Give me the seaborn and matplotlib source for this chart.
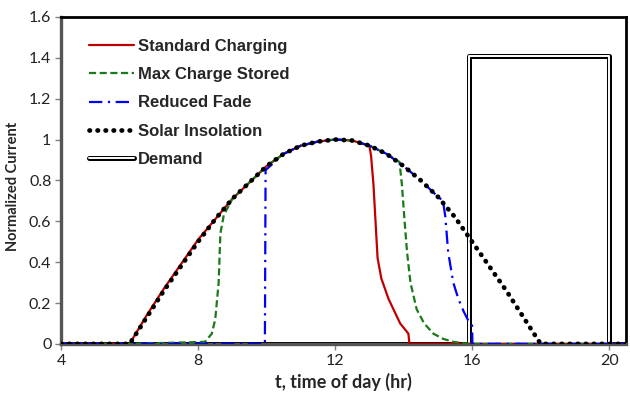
import matplotlib
matplotlib.use("Agg")
import matplotlib.pyplot as plt
import seaborn as sns
from matplotlib.lines import Line2D

# hours of day and normalized current
solar_t = [4, 6, 6.5, 7, 7.5, 8, 8.5, 9, 9.5, 10, 10.5, 11, 11.5, 12, 12.5,
           13, 13.5, 14, 14.5, 15, 15.5, 16, 16.5, 17, 17.5, 18, 20.5]
solar_v = [0, 0, 0.13, 0.26, 0.38, 0.50, 0.61, 0.71, 0.79, 0.87, 0.93, 0.97, 0.99, 1.0, 0.995,
           0.97, 0.93, 0.87, 0.80, 0.72, 0.62, 0.50, 0.38, 0.26, 0.13, 0, 0]

std_t = [4, 6, 6.5, 7, 7.5, 8, 8.5, 9, 9.5, 10, 10.5, 11, 11.5, 12, 12.5,
         13.0, 13.05, 13.12, 13.18, 13.24, 13.35, 13.56, 13.9, 14.14, 14.17, 20.5]
std_v = [0, 0, 0.14, 0.27, 0.39, 0.51, 0.61, 0.71, 0.79, 0.87, 0.93, 0.97, 0.99, 1.0, 0.995,
         0.97, 0.92, 0.78, 0.60, 0.42, 0.32, 0.22, 0.10, 0.05, 0, 0]

mcs_t = [4, 6, 8.2, 8.4, 8.5, 8.6, 8.65, 8.75, 9, 9.5, 10, 10.5, 11, 11.5, 12, 12.5,
         13, 13.5, 13.88, 13.95, 14.02, 14.1, 14.2, 14.38, 14.6, 14.87, 15.15, 15.45, 15.9, 20.5]
mcs_v = [0, 0, 0.01, 0.05, 0.12, 0.30, 0.54, 0.63, 0.71, 0.79, 0.87, 0.93, 0.97, 0.99, 1.0, 0.995,
         0.97, 0.93, 0.89, 0.78, 0.62, 0.45, 0.30, 0.17, 0.10, 0.05, 0.025, 0.01, 0, 0]

rf_t = [4, 9.95, 9.97, 10.5, 11, 11.5, 12, 12.5, 13, 13.5, 14, 14.5, 15, 15.15,
        15.22, 15.3, 15.45, 15.6, 15.75, 15.9, 16.0, 16.01, 20.5]
rf_v = [0, 0, 0.85, 0.93, 0.97, 0.99, 1.0, 0.995, 0.97, 0.93, 0.87, 0.80, 0.72, 0.70,
        0.62, 0.45, 0.30, 0.22, 0.16, 0.11, 0.09, 0, 0]

dem_t = [4, 15.9, 15.9, 20.0, 20.0, 20.5]
dem_v = [0, 0, 1.41, 1.41, 0, 0]

labels = ["Standard Charging", "Max Charge Stored", "Reduced Fade",
          "Solar Insolation", "Demand"]

sns.set_style("white")
plt.rcParams["font.family"] = ["Lato", "DejaVu Sans"]

fig = plt.figure(figsize=(6.3, 3.93), dpi=100)
ax = fig.add_axes([0.097, 0.125, 0.897, 0.832])

# demand drawn as a double line: thick black with a thin white core
sns.lineplot(x=dem_t, y=dem_v, estimator=None, sort=False, ax=ax,
             color="black", linewidth=3.6, zorder=2)
sns.lineplot(x=dem_t, y=dem_v, estimator=None, sort=False, ax=ax,
             color="white", linewidth=1.4, zorder=2.1)

sns.lineplot(x=std_t, y=std_v, estimator=None, sort=False, ax=ax,
             color="#c00000", linewidth=1.6, zorder=3)
sns.lineplot(x=mcs_t, y=mcs_v, estimator=None, sort=False, ax=ax,
             color="#1a7a1a", linewidth=1.6, linestyle=(0, (3.2, 1.6)), zorder=3)
sns.lineplot(x=rf_t, y=rf_v, estimator=None, sort=False, ax=ax,
             color="#0000ff", linewidth=1.6, linestyle=(0, (6, 2.5, 1, 2.5)), zorder=3)
sns.lineplot(x=solar_t, y=solar_v, estimator=None, sort=False, ax=ax,
             color="black", linewidth=3.4, linestyle=(0, (0.1, 1.6)),
             dash_capstyle="round", zorder=4)

ax.set_xlim(4, 20.5)
ax.set_ylim(0, 1.6)
ax.set_xticks([4, 8, 12, 16, 20])
ax.set_yticks([0, 0.2, 0.4, 0.6, 0.8, 1.0, 1.2, 1.4, 1.6])
ax.set_yticklabels(["0", "0.2", "0.4", "0.6", "0.8", "1", "1.2", "1.4", "1.6"])
ax.tick_params(axis="both", labelsize=11.5, length=4, width=1, color="#808080",
               direction="out", pad=3, labelcolor="#222222")
ax.xaxis.set_ticks_position("bottom")
ax.yaxis.set_ticks_position("left")

for side in ["left", "bottom"]:
    ax.spines[side].set_color("#555555")
    ax.spines[side].set_linewidth(2.4)
for side in ["top", "right"]:
    ax.spines[side].set_color("black")
    ax.spines[side].set_linewidth(2.0)

ax.set_xlabel("t, time of day (hr)", fontsize=13, fontweight="bold", labelpad=4)
ax.set_ylabel("Normalized Current", fontsize=10.5, fontweight="bold", labelpad=8)
ax.yaxis.set_label_coords(-0.072, 0.48)

handles = [
    Line2D([], [], color="#c00000", linewidth=1.6),
    Line2D([], [], color="#1a7a1a", linewidth=1.6, linestyle=(0, (3.2, 1.6))),
    Line2D([], [], color="#0000ff", linewidth=1.6, linestyle=(0, (6, 2.5, 1, 2.5))),
    Line2D([], [], color="black", linewidth=3.4, linestyle=(0, (0.1, 1.6)),
           dash_capstyle="round"),
    (Line2D([], [], color="black", linewidth=3.6, solid_capstyle="round"),
     Line2D([], [], color="white", linewidth=1.4, solid_capstyle="round")),
]
ax.legend(handles, labels, loc="upper left", bbox_to_anchor=(0.023, 0.978),
          frameon=False, handlelength=2.7, handletextpad=0.24, labelspacing=0.79,
          prop={"family": ["Liberation Sans", "DejaVu Sans"], "size": 12, "weight": "bold"})

fig.savefig("out.png", dpi=100)
